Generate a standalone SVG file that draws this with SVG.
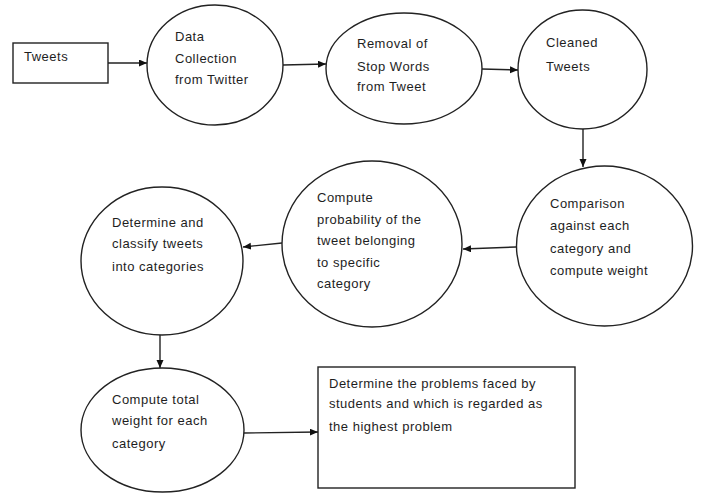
<svg xmlns="http://www.w3.org/2000/svg" width="702" height="494" viewBox="0 0 702 494">
<style>
.s{fill:#fff;stroke:#222;stroke-width:1.4}
.c{fill:none;stroke:#222;stroke-width:1.4}
text{font-family:"Liberation Sans",Arial,sans-serif;font-size:13px;letter-spacing:0.5px;fill:#1e1e1e}
</style>
<defs>
<marker id="ah" markerUnits="userSpaceOnUse" markerWidth="9" markerHeight="8" refX="8" refY="3.5" orient="auto">
<path d="M0,0 L8,3.5 L0,7 z" fill="#111"/>
</marker>
</defs>
<rect width="702" height="494" fill="#fff"/>
<g id="connectors">
<line class="c" x1="108" y1="63" x2="147" y2="63" marker-end="url(#ah)"/>
<line class="c" x1="283" y1="65" x2="326" y2="64" marker-end="url(#ah)"/>
<line class="c" x1="482" y1="69" x2="518" y2="70" marker-end="url(#ah)"/>
<line class="c" x1="583" y1="129" x2="583" y2="167" marker-end="url(#ah)"/>
<line class="c" x1="516" y1="247" x2="463" y2="249" marker-end="url(#ah)"/>
<line class="c" x1="282" y1="243" x2="243" y2="247" marker-end="url(#ah)"/>
<line class="c" x1="160" y1="335" x2="160" y2="368" marker-end="url(#ah)"/>
<line class="c" x1="244" y1="433" x2="318" y2="432" marker-end="url(#ah)"/>
</g>
<g id="tweets">
<rect class="s" x="13" y="43" width="95" height="40"/>
<text x="24" y="61">Tweets</text>
</g>
<g id="data-collection">
<ellipse class="s" cx="215" cy="65" rx="68" ry="60"/>
<text x="175" y="41">Data</text>
<text x="175" y="63">Collection</text>
<text x="175" y="84">from Twitter</text>
</g>
<g id="removal">
<ellipse class="s" cx="404" cy="68.5" rx="78" ry="55.5"/>
<text x="357" y="48">Removal of</text>
<text x="357" y="71">Stop Words</text>
<text x="357" y="91">from Tweet</text>
</g>
<g id="cleaned">
<ellipse class="s" cx="582.5" cy="69.5" rx="64.5" ry="59.5"/>
<text x="546" y="47">Cleaned</text>
<text x="546" y="71">Tweets</text>
</g>
<g id="comparison">
<ellipse class="s" cx="604.5" cy="246" rx="88" ry="80"/>
<text x="550" y="208">Comparison</text>
<text x="550" y="230">against each</text>
<text x="550" y="253">category and</text>
<text x="550" y="275">compute weight</text>
</g>
<g id="compute-probability">
<ellipse class="s" cx="372" cy="244" rx="90" ry="83"/>
<text x="317" y="202">Compute</text>
<text x="317" y="224">probability of the</text>
<text x="317" y="245">tweet belonging</text>
<text x="317" y="267">to specific</text>
<text x="317" y="288">category</text>
</g>
<g id="determine-classify">
<ellipse class="s" cx="162" cy="261" rx="81" ry="74"/>
<text x="112" y="227">Determine and</text>
<text x="112" y="248">classify tweets</text>
<text x="112" y="271">into categories</text>
</g>
<g id="compute-total">
<ellipse class="s" cx="162.5" cy="430" rx="81.5" ry="62"/>
<text x="112" y="404">Compute total</text>
<text x="112" y="425">weight for each</text>
<text x="112" y="448">category</text>
</g>
<g id="determine-problems">
<rect class="s" x="318" y="367" width="257" height="121"/>
<text x="329" y="388">Determine the problems faced by</text>
<text x="329" y="408">students and which is regarded as</text>
<text x="329" y="431">the highest problem</text>
</g>
</svg>
